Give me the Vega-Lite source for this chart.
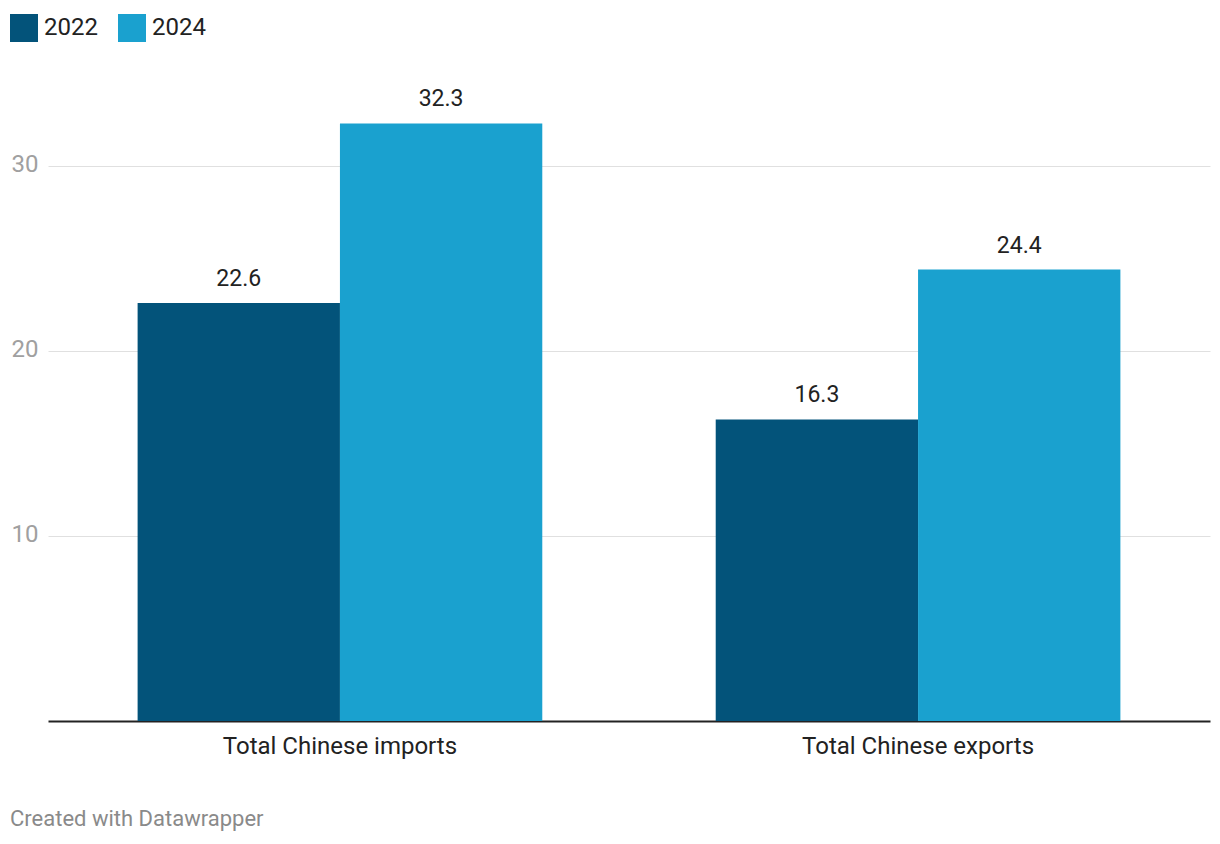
{
  "$schema": "https://vega.github.io/schema/vega-lite/v6.json",
  "width": 1162,
  "height": 629,
  "autosize": {"type": "none"},
  "padding": {"left": 48, "top": 92, "right": 10, "bottom": 123},
  "background": "white",
  "config": {"view": {"stroke": null}},
  "data": {"values": [
    {"category": "Total Chinese imports", "year": "2022", "value": 22.6},
    {"category": "Total Chinese imports", "year": "2024", "value": 32.3},
    {"category": "Total Chinese exports", "year": "2022", "value": 16.3},
    {"category": "Total Chinese exports", "year": "2024", "value": 24.4}
  ]},
  "title": {
    "text": "Created with Datawrapper",
    "orient": "bottom",
    "anchor": "start",
    "frame": "bounds",
    "dx": 0,
    "offset": 51,
    "font": "Roboto",
    "fontSize": 22,
    "fontWeight": "normal",
    "color": "#8a8a8a"
  },
  "encoding": {
    "x": {
      "field": "category", "type": "nominal", "sort": null,
      "scale": {"paddingInner": 0.3, "paddingOuter": 0.155},
      "axis": {"title": null, "labelAngle": 0, "ticks": false, "labelPadding": 13, "labelLimit": 0, "labelFontSize": 24, "labelFont": "Roboto", "labelColor": "#222222", "domainColor": "#222222", "domainWidth": 2, "grid": false}
    },
    "xOffset": {"field": "year", "type": "nominal", "scale": {"paddingInner": 0, "paddingOuter": 0}},
    "y": {
      "field": "value", "type": "quantitative",
      "scale": {"domain": [0, 34], "nice": false},
      "axis": {"title": null, "values": [10, 20, 30], "domain": false, "ticks": false, "labelPadding": 10, "labelFontSize": 24, "labelFont": "Roboto", "labelColor": "#a0a0a0", "gridColor": "#e0e0e0", "gridWidth": 1, "labelBaseline": "middle", "labelOffset": -2}
    }
  },
  "layer": [
    {
      "mark": {"type": "bar"},
      "encoding": {
        "color": {
          "field": "year", "type": "nominal",
          "scale": {"domain": ["2022", "2024"], "range": ["#03537a", "#1aa1cf"]},
          "legend": {
            "title": null, "orient": "none", "direction": "horizontal",
            "legendX": -38, "legendY": -78,
            "symbolType": "square", "symbolSize": 784, "symbolStrokeWidth": 0, "symbolOpacity": 1,
            "labelFontSize": 24, "labelFont": "Roboto", "labelColor": "#222222",
            "labelOffset": 6, "columnPadding": 20
          }
        }
      }
    },
    {
      "mark": {"type": "text", "baseline": "bottom", "dy": -12, "font": "Roboto", "fontSize": 23, "color": "#222222"},
      "encoding": {
        "text": {"field": "value", "type": "quantitative", "format": ".1f"}
      }
    }
  ]
}
